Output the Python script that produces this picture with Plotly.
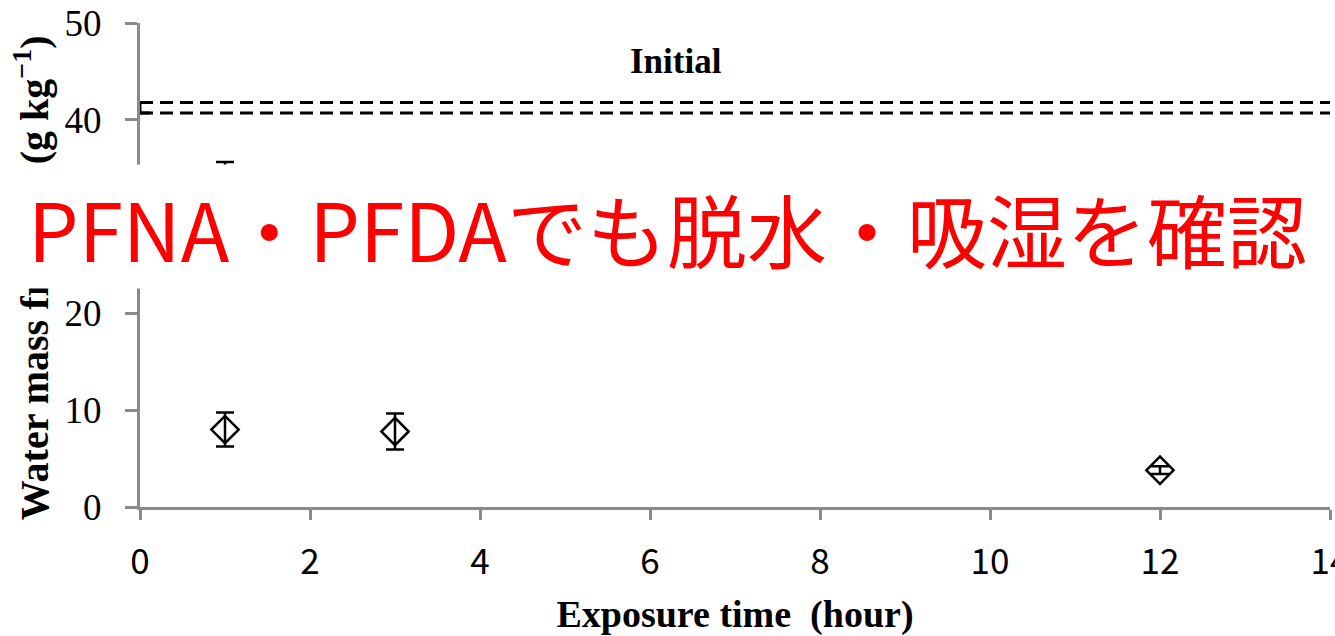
import plotly.graph_objects as go

# Exposure experiment: water mass fraction over time
exposure_hours = [1, 3, 12]
water_fraction = [8.0, 7.8, 3.8]
water_fraction_sd = [1.75, 1.85, 0.4]

# Upper series at 1 h (mostly covered by the banner)
upper_hours = [1]
upper_fraction = [33.0]
upper_fraction_sd = [2.65]

# Initial state (mean ± SD)
initial_mean = 41.25
initial_sd = 0.55

x_ticks = [0, 2, 4, 6, 8, 10, 12, 14]
y_ticks = [0, 10, 20, 40, 50]
x_max = 14
y_max = 50

banner_text = "PFNA・PFDAでも脱水・吸湿を確認"

SERIF = "Liberation Serif"
SANS = "Noto Sans CJK JP"
AXIS_GREY = "#8a8a8a"

fig = go.Figure()

# initial mean ± SD as dashed horizontal lines
for level in (initial_mean + initial_sd, initial_mean - initial_sd):
    fig.add_trace(go.Scatter(
        x=[0, x_max], y=[level, level], mode="lines",
        line=dict(color="black", width=3, dash="13px,7px"),
        hoverinfo="skip", showlegend=False,
    ))

# error bar of the initial value at t = 0
fig.add_trace(go.Scatter(
    x=[0], y=[initial_mean], mode="markers",
    marker=dict(size=1, color="rgba(0,0,0,0)"),
    error_y=dict(type="data", array=[initial_sd], color="black",
                 thickness=3, width=10),
    showlegend=False,
))

marker_style = dict(symbol="diamond-open", size=21, color="black",
                    line=dict(color="black", width=2.5))

fig.add_trace(go.Scatter(
    x=upper_hours, y=upper_fraction, mode="markers",
    marker=marker_style,
    error_y=dict(type="data", array=upper_fraction_sd, color="black",
                 thickness=2.5, width=9),
    showlegend=False,
))

fig.add_trace(go.Scatter(
    x=exposure_hours, y=water_fraction, mode="markers",
    marker=marker_style,
    error_y=dict(type="data", array=water_fraction_sd, color="black",
                 thickness=2.5, width=9),
    showlegend=False,
))

fig.update_xaxes(
    range=[0, x_max], tickvals=x_ticks,
    showline=True, linecolor=AXIS_GREY, linewidth=3,
    ticks="outside", ticklen=10, tickwidth=3, tickcolor=AXIS_GREY,
    showgrid=False, zeroline=False, automargin=False,
    tickfont=dict(family=SANS, size=35, color="black"),
    ticklabelstandoff=12, ticklabeloverflow="allow",
    title=dict(text="<b>Exposure time  (hour)</b>",
               font=dict(family=SERIF, size=38, color="black"),
               standoff=26),
)
fig.update_yaxes(
    range=[0, y_max], tickvals=y_ticks,
    showline=True, linecolor=AXIS_GREY, linewidth=3,
    ticks="outside", ticklen=12, tickwidth=3, tickcolor=AXIS_GREY,
    showgrid=False, zeroline=False, automargin=False,
    tickfont=dict(family=SERIF, size=37, color="black"),
    ticklabelstandoff=16,
)

fig.add_annotation(
    text="<b>Initial</b>", x=6.3, y=46, xref="x", yref="y",
    showarrow=False, font=dict(family=SERIF, size=35, color="black"),
)

# y-axis title
fig.add_annotation(
    text="<b>Water mass fraction (g kg<sup>−1</sup>)</b>",
    xref="paper", yref="paper", x=-0.0915, y=0.473,
    xanchor="center", yanchor="middle",
    textangle=-90, showarrow=False,
    font=dict(family=SERIF, size=40, color="black"),
)

# banner across the middle of the chart
fig.add_annotation(
    text=banner_text, xref="paper", yref="paper",
    x=0.4433, y=0.5795, xanchor="center", yanchor="middle",
    width=1345, height=123, bgcolor="white", borderpad=0,
    showarrow=False, font=dict(family=SANS, size=80, color="#ff0000"),
)

fig.update_layout(
    width=1335, height=636,
    margin=dict(l=140, r=5, t=23, b=129),
    paper_bgcolor="white", plot_bgcolor="white",
    showlegend=False,
)

fig.write_html("out.html")
